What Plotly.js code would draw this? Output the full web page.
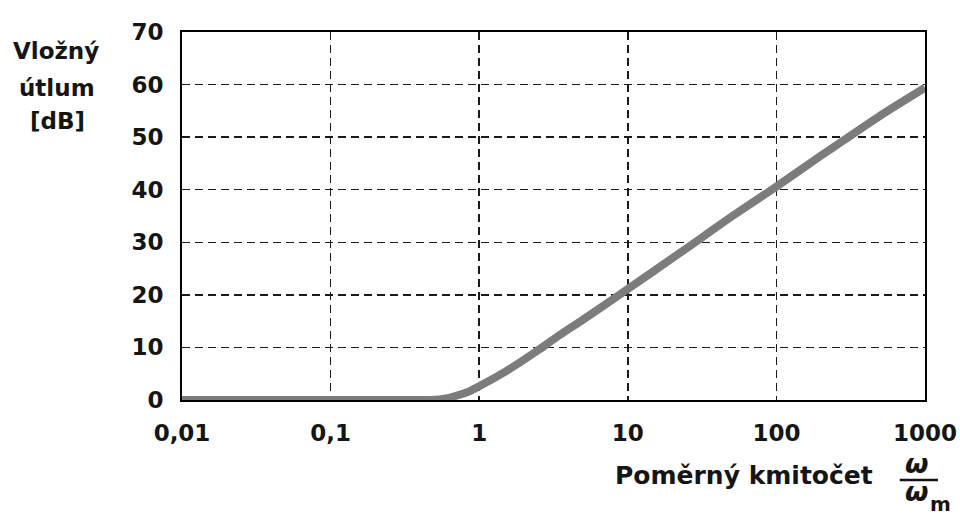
<!DOCTYPE html>
<html>
<head>
<meta charset="utf-8">
<script src="https://cdn.plot.ly/plotly-3.0.1.min.js"></script>
<style>html,body{margin:0;padding:0;background:#fff;}#chart{width:960px;height:518px;}</style>
</head>
<body>
<div id="chart"></div>
<script>
// Relative frequency ω/ωm and insertion loss (dB)
const omega = [0.01, 0.05, 0.1, 0.3, 0.47, 0.6, 0.7, 0.85, 1, 1.5, 2, 2.5, 3.5, 5, 10, 20, 33, 50, 100, 200, 284, 500, 1000];
const attenuation = [0, 0, 0, 0, 0, 0.3, 0.8, 1.6, 2.6, 5.4, 7.65, 9.5, 12.4, 15.3, 21.1, 27.0, 31.3, 34.9, 40.6, 46.5, 49.4, 54.1, 59.4];
const xTickVals = [0.01, 0.1, 1, 10, 100, 1000];
const xTickText = ['0,01', '0,1', '1', '10', '100', '1000'];
const yTickVals = [0, 10, 20, 30, 40, 50, 60, 70];

const FONT = 'DejaVu Sans, Verdana, sans-serif';
const TXT = '#151515';
const trace = {
  x: omega, y: attenuation, type: 'scatter', mode: 'lines',
  line: {color: '#7c7c7c', width: 8, shape: 'spline', smoothing: 0.7},
  hoverinfo: 'skip', cliponaxis: false
};
const gridStyle = {showgrid: true, gridcolor: '#1a1a1a', griddash: '8px,5px', gridwidth: 1.5,
  showline: true, linecolor: '#000', linewidth: 2, mirror: true, zeroline: false, ticks: ''};
const layout = {
  width: 960, height: 518,
  margin: {l: 182, r: 35, t: 32, b: 118},
  paper_bgcolor: '#fff', plot_bgcolor: '#fff',
  showlegend: false,
  font: {family: FONT, color: TXT, size: 23, weight: 'bold'},
  xaxis: Object.assign({
    type: 'log', range: [-2, 3],
    tickvals: xTickVals, ticktext: xTickText,
    ticklabelstandoff: 11,
    tickfont: {family: FONT, size: 23, color: TXT, weight: 'bold'}
  }, gridStyle),
  yaxis: Object.assign({
    range: [0, 70], tickvals: yTickVals,
    ticklabelstandoff: 12,
    tickfont: {family: FONT, size: 23, color: TXT, weight: 'bold'}
  }, gridStyle),
  annotations: [
    {text: 'Vložný', xref: 'paper', yref: 'paper', x: -0.1696, y: 0.9484, xanchor: 'center', yanchor: 'middle', showarrow: false, font: {size: 23, weight: 'bold'}},
    {text: 'útlum', xref: 'paper', yref: 'paper', x: -0.168, y: 0.8478, xanchor: 'center', yanchor: 'middle', showarrow: false, font: {size: 23, weight: 'bold'}},
    {text: '[dB]', xref: 'paper', yref: 'paper', x: -0.168, y: 0.7582, xanchor: 'center', yanchor: 'middle', showarrow: false, font: {size: 23, weight: 'bold'}},
    {text: 'Poměrný kmitočet', xref: 'paper', yref: 'paper', x: 0.7564, y: -0.2065, xanchor: 'center', yanchor: 'middle', showarrow: false, font: {size: 25, weight: 'bold'}},
    {text: 'ω', xref: 'paper', yref: 'paper', x: 0.9879, y: -0.1712, xanchor: 'center', yanchor: 'middle', showarrow: false, font: {size: 27, weight: 'bold', style: 'italic'}},
    {text: 'ω', xref: 'paper', yref: 'paper', x: 0.9879, y: -0.2473, xanchor: 'center', yanchor: 'middle', showarrow: false, font: {size: 27, weight: 'bold', style: 'italic'}},
    {text: 'm', xref: 'paper', yref: 'paper', x: 1.0215, y: -0.2826, xanchor: 'center', yanchor: 'middle', showarrow: false, font: {size: 20, weight: 'bold'}}
  ],
  shapes: [
    {type: 'line', xref: 'paper', yref: 'paper', x0: 0.966, x1: 1.0175, y0: -0.2174, y1: -0.2174, line: {color: TXT, width: 2.5}}
  ]
};
Plotly.newPlot('chart', [trace], layout, {staticPlot: true, displayModeBar: false});
</script>
</body>
</html>
